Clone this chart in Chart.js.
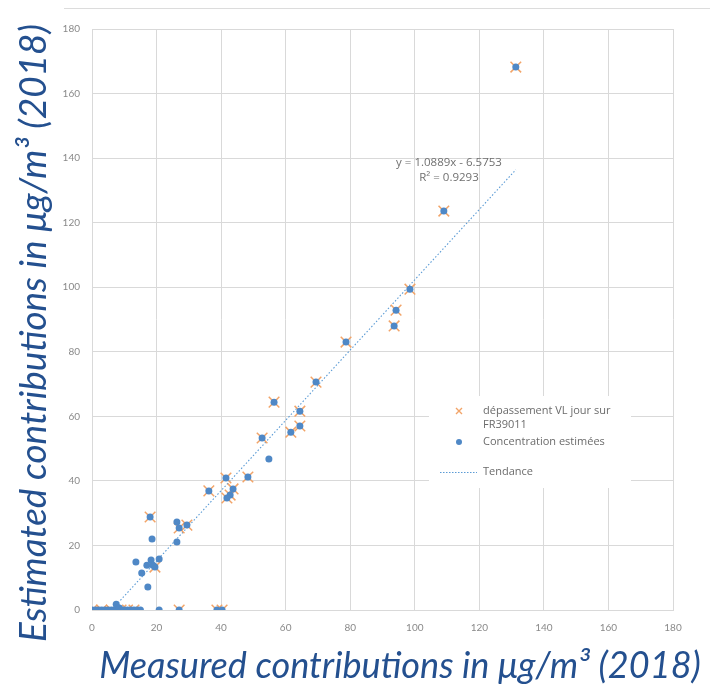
<!DOCTYPE html>
<html>
<head>
<meta charset="utf-8">
<script src="https://cdn.jsdelivr.net/npm/chart.js@4.4.1/dist/chart.umd.min.js"></script>
<style>
  html, body { margin: 0; padding: 0; background: #ffffff; }
  #wrap { position: relative; width: 710px; height: 691px; }
  canvas { display: block; }
</style>
</head>
<body>
<div id="wrap"><canvas id="chart" width="710" height="691"></canvas></div>
<script>
// Measured vs estimated daily contributions (µg/m³, 2018)
const measured = [
  131.3, 109.0, 98.5, 94.2, 93.6, 78.7, 69.4, 56.4, 64.4, 64.4, 61.6, 52.7, 54.8,
  48.3, 41.5, 36.2, 43.7, 42.8, 41.8, 18.0, 26.3, 27.0, 29.4, 18.6, 26.3,
  13.6, 18.3, 17.0, 20.8, 19.5, 18.9, 15.4, 17.3, 20.8, 27.0, 38.7, 40.3,
  0.0, 1.0, 2.0, 3.0, 4.0, 5.0, 6.0, 7.0, 7.5, 8.5, 9.0, 10.0, 11.0, 12.0, 13.0, 14.0, 15.0
];
const estimated = [
  168.2, 123.6, 99.4, 92.9, 88.0, 83.0, 70.6, 64.4, 61.6, 57.0, 55.1, 53.3, 46.8,
  41.2, 40.9, 36.9, 37.5, 35.6, 34.7, 28.8, 27.3, 25.4, 26.3, 22.0, 21.1,
  14.9, 15.5, 13.9, 15.8, 13.3, 13.9, 11.5, 7.1, 0.0, 0.0, 0.0, 0.0,
  0.0, 0.0, 0.0, 0.0, 0.0, 0.0, 0.0, 0.0, 1.8, 0.6, 0.0, 0.0, 0.0, 0.0, 0.0, 0.0, 0.0
];

// Days exceeding the daily limit value at FR39011
const exceedMeasured = [
  131.3, 109.0, 98.5, 94.2, 93.6, 78.7, 69.4, 56.4, 64.4, 64.4, 61.6, 52.7,
  48.3, 41.5, 36.2, 43.7, 42.8, 41.8, 18.0, 27.0, 29.4, 19.5, 27.0, 38.7, 40.3,
  0.0, 3.0, 6.0, 9.0, 11.0, 13.0
];
const exceedEstimated = [
  168.2, 123.6, 99.4, 92.9, 88.0, 83.0, 70.6, 64.4, 61.6, 57.0, 55.1, 53.3,
  41.2, 40.9, 36.9, 37.5, 35.6, 34.7, 28.8, 25.4, 26.3, 13.3, 0.0, 0.0, 0.0,
  0.0, 0.0, 0.0, 0.0, 0.0, 0.0
];

// Linear trend as labelled on the chart
const trendSlope = 1.0889;
const trendIntercept = -6.5753;
const trendRange = [0, 131.3];
const trendLabel = ['y = 1.0889x - 6.5753', 'R² = 0.9293'];

const axisTicks = [0, 20, 40, 60, 80, 100, 120, 140, 160, 180];
const xTitle = 'Measured contributions in μg/m³ (2018)';
const yTitle = 'Estimated contributions in μg/m³ (2018)';
const legendLabels = ['dépassement VL jour sur', 'FR39011', 'Concentration estimées', 'Tendance'];

const BLUE = '#4f88c6';
const ORANGE = '#f2a468';
const GRID = '#d9d9d9';
const TICK = '#8a8a8a';
const TEXT = '#6b6b6b';
const TITLE = '#24508f';

const toPoints = (xs, ys) => xs.map((x, i) => ({ x, y: ys[i] }));

// Axis title sized so that it runs over the wanted length
function drawTitle(ctx, text, targetWidth) {
  ctx.font = 'italic 100px Lato';
  const size = 100 * targetWidth / ctx.measureText(text).width;
  ctx.font = 'italic ' + size.toFixed(2) + 'px Lato';
  ctx.fillText(text, 0, 0);
}

const decor = {
  id: 'decor',
  beforeDraw(chart) {
    const ctx = chart.ctx;
    ctx.save();
    ctx.fillStyle = '#ffffff';
    ctx.fillRect(0, 0, chart.width, chart.height);
    ctx.strokeStyle = '#dcdcdc';
    ctx.lineWidth = 1;
    ctx.beginPath();
    ctx.moveTo(64, 8.5);
    ctx.lineTo(chart.width, 8.5);
    ctx.stroke();
    ctx.restore();
  },
  afterDatasetsDraw(chart) {
    const ctx = chart.ctx;
    ctx.save();
    // legend panel
    ctx.fillStyle = '#ffffff';
    ctx.fillRect(429, 396, 202, 92);
    ctx.font = '11px "Open Sans"';
    ctx.fillStyle = TEXT;
    ctx.textBaseline = 'middle';
    ctx.textAlign = 'left';
    // exceedance marker
    ctx.strokeStyle = ORANGE;
    ctx.lineWidth = 1.4;
    ctx.beginPath();
    ctx.moveTo(456, 408); ctx.lineTo(462, 414);
    ctx.moveTo(462, 408); ctx.lineTo(456, 414);
    ctx.stroke();
    ctx.fillText(legendLabels[0], 483, 411);
    ctx.fillText(legendLabels[1], 483, 425);
    // estimated marker
    ctx.fillStyle = BLUE;
    ctx.beginPath();
    ctx.arc(459, 442, 3, 0, Math.PI * 2);
    ctx.fill();
    ctx.fillStyle = TEXT;
    ctx.fillText(legendLabels[2], 483, 442);
    // trend line sample
    ctx.strokeStyle = '#5b9bd5';
    ctx.lineWidth = 1;
    ctx.setLineDash([1.5, 1.5]);
    ctx.beginPath();
    ctx.moveTo(440, 472.5); ctx.lineTo(477, 472.5);
    ctx.stroke();
    ctx.setLineDash([]);
    ctx.fillText(legendLabels[3], 483, 472);
    // trend equation
    ctx.font = '11.5px "Open Sans"';
    ctx.textAlign = 'center';
    ctx.fillStyle = '#707070';
    ctx.fillText(trendLabel[0], 449, 163);
    ctx.fillText(trendLabel[1], 449, 178);
    ctx.restore();
  },
  afterDraw(chart) {
    const ctx = chart.ctx;
    ctx.fillStyle = TITLE;
    ctx.textAlign = 'center';
    ctx.textBaseline = 'alphabetic';
    ctx.save();
    ctx.translate(400, 678);
    drawTitle(ctx, xTitle, 602);
    ctx.restore();
    ctx.save();
    ctx.translate(46, 333);
    ctx.rotate(-Math.PI / 2);
    drawTitle(ctx, yTitle, 618);
    ctx.restore();
  }
};

const axis = (extra) => Object.assign({
  type: 'linear',
  min: 0,
  max: 180,
  afterBuildTicks: (scale) => { scale.ticks = axisTicks.map(v => ({ value: v })); },
  grid: { color: GRID, lineWidth: 1, drawTicks: false },
  border: { color: GRID, width: 1 }
}, extra);

new Chart(document.getElementById('chart'), {
  type: 'scatter',
  data: {
    datasets: [
      {
        label: 'Concentration estimées',
        data: toPoints(measured, estimated),
        backgroundColor: BLUE,
        borderWidth: 0,
        pointRadius: 3.5,
        pointHoverRadius: 3.5
      },
      {
        label: 'dépassement VL jour sur FR39011',
        data: toPoints(exceedMeasured, exceedEstimated),
        pointStyle: 'crossRot',
        borderColor: ORANGE,
        backgroundColor: ORANGE,
        borderWidth: 1.5,
        pointRadius: 7.5,
        pointHoverRadius: 7.5
      },
      {
        label: 'Tendance',
        data: trendRange.map(x => ({ x, y: trendSlope * x + trendIntercept })),
        showLine: true,
        borderColor: '#5b9bd5',
        borderWidth: 1.1,
        borderDash: [1.5, 2],
        pointRadius: 0,
        pointHoverRadius: 0,
        fill: false
      }
    ]
  },
  options: {
    responsive: false,
    animation: false,
    devicePixelRatio: 1,
    layout: { padding: { top: 29, right: 37, bottom: 0, left: 0 } },
    plugins: { legend: { display: false }, tooltip: { enabled: false } },
    scales: {
      x: axis({
        position: 'bottom',
        ticks: { color: TICK, font: { family: 'Lato', size: 10 }, padding: 12, maxRotation: 0 },
        afterFit: (scale) => { scale.height = 81; }
      }),
      y: axis({
        position: 'left',
        ticks: { color: TICK, font: { family: 'Lato', size: 10 }, padding: 12 },
        afterFit: (scale) => { scale.width = 92; }
      })
    }
  },
  plugins: [decor]
});
</script>
</body>
</html>
